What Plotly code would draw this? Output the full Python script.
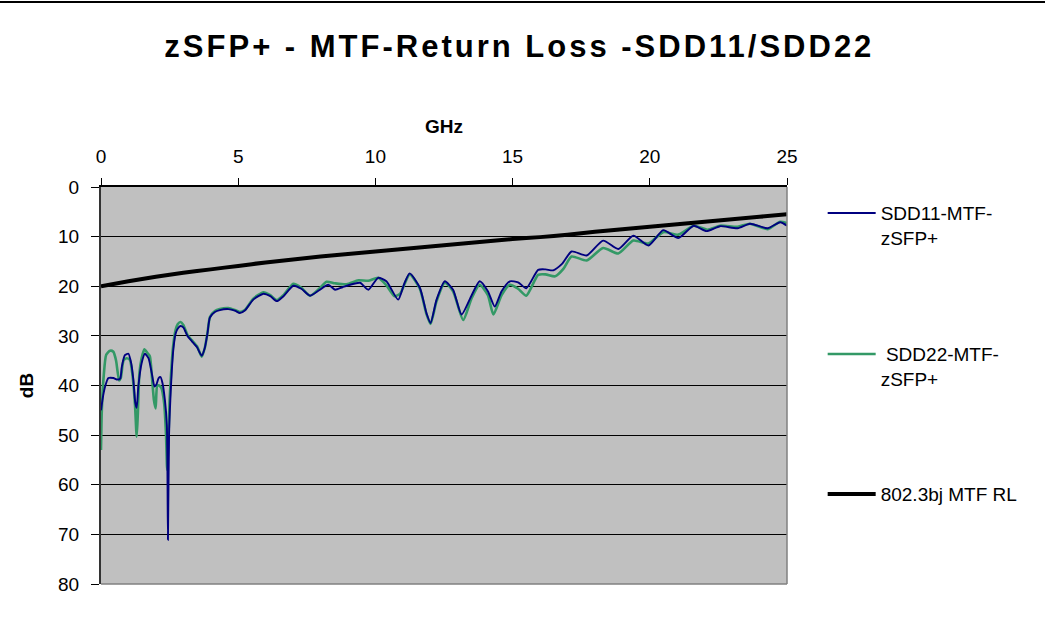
import plotly.graph_objects as go

# ---------------- data ----------------
freq_sdd11 = [0.00, 0.08, 0.15, 0.27, 0.45, 0.60, 0.70, 0.76, 0.87, 1.00, 1.10, 1.18, 1.25, 1.30,
              1.36, 1.48, 1.60, 1.73, 1.85, 1.95, 2.02, 2.10, 2.17, 2.24, 2.33, 2.40, 2.44, 2.48,
              2.53, 2.58, 2.64, 2.72, 2.80, 2.90, 3.00, 3.15, 3.30, 3.50, 3.67, 3.78, 3.88, 3.97,
              4.15, 4.33, 4.64, 4.88, 5.06, 5.24, 5.55, 5.92, 6.17, 6.41, 6.65, 7.01, 7.30, 7.62,
              7.95, 8.28, 8.53, 8.80, 9.07, 9.44, 9.74, 10.10, 10.40, 10.83, 11.05, 11.25, 11.62,
              11.86, 12.01, 12.23, 12.53, 12.83, 13.14, 13.50, 13.80, 14.10, 14.35, 14.60, 14.90,
              15.20, 15.50, 15.93, 16.20, 16.48, 16.80, 17.15, 17.70, 18.30, 18.85, 19.40, 19.95,
              20.49, 21.04, 21.60, 22.07, 22.56, 23.20, 23.65, 24.30, 24.75, 25.00]
db_sdd11 = [45.0, 42.0, 40.2, 38.5, 38.5, 38.8, 38.6, 36.2, 33.9, 33.6, 35.5, 38.9, 43.5, 44.5,
            40.2, 35.5, 33.6, 34.5, 37.5, 40.2, 39.8, 38.5, 38.3, 39.5, 43.0, 48.0, 71.1, 50.0,
            42.5, 37.0, 32.5, 29.5, 28.5, 28.0, 28.3, 30.0, 31.0, 32.3, 34.0, 32.5, 29.5, 26.3,
            25.2, 24.8, 24.6, 24.9, 25.4, 24.9, 22.7, 21.5, 22.0, 23.0, 22.0, 19.9, 20.5, 21.9,
            20.8, 19.7, 20.7, 20.2, 19.7, 19.3, 20.7, 18.3, 19.0, 22.7, 19.5, 17.4, 20.3,
            25.4, 27.4, 22.7, 19.0, 20.7, 25.7, 21.9, 19.0, 21.0, 24.1, 21.0, 19.0,
            19.2, 20.4, 16.7, 16.6, 16.8, 15.5, 13.0, 13.8, 10.8, 12.5, 9.8, 11.8,
            8.7, 10.3, 7.8, 8.9, 7.9, 8.3, 7.4, 8.3, 7.1, 7.8]

freq_sdd22 = [0.00, 0.03, 0.10, 0.19, 0.33, 0.45, 0.55, 0.66, 0.72, 0.82, 0.93, 1.05, 1.15, 1.24,
              1.30, 1.34, 1.40, 1.48, 1.58, 1.70, 1.78, 1.86, 1.93, 1.99, 2.05, 2.12, 2.20, 2.30,
              2.37, 2.41, 2.45, 2.50, 2.55, 2.62, 2.72, 2.80, 2.90, 3.00, 3.15, 3.30, 3.50, 3.67,
              3.78, 3.88, 3.97, 4.15, 4.33, 4.64, 4.88, 5.06, 5.24, 5.55, 5.92, 6.17, 6.41, 6.65,
              7.01, 7.30, 7.62, 7.95, 8.22, 8.53, 8.95, 9.38, 9.74, 10.10, 10.40, 10.70, 10.90,
              11.25, 11.62, 11.86, 12.01, 12.23, 12.53, 12.83, 13.20, 13.50, 13.80, 14.10, 14.30,
              14.60, 14.90, 15.20, 15.50, 15.93, 16.20, 16.55, 16.85, 17.15, 17.70, 18.30, 18.85,
              19.40, 19.95, 20.49, 21.04, 21.60, 22.10, 22.56, 23.20, 23.65, 24.30, 24.75, 25.00]
db_sdd22 = [53.0, 45.0, 38.0, 33.8, 33.0, 33.2, 35.0, 39.0, 38.5, 35.0, 34.5, 34.8, 38.0, 44.0,
            50.3, 46.0, 37.5, 34.5, 32.7, 33.5, 34.1, 38.5, 43.0, 44.6, 40.0, 40.0, 40.5, 43.5,
            50.0, 57.0, 52.0, 43.0, 38.0, 32.5, 28.8, 27.6, 27.2, 27.8, 29.8, 30.8, 32.1, 34.2,
            32.5, 29.4, 26.2, 25.0, 24.6, 24.4, 24.8, 25.2, 24.8, 22.5, 21.2, 21.8, 22.8, 21.8,
            19.5, 20.3, 21.9, 20.5, 19.1, 19.4, 19.6, 18.8, 18.9, 18.3, 19.8, 22.0, 21.5,
            17.6, 20.5, 25.6, 27.6, 23.0, 19.3, 21.0, 26.8, 22.5, 19.7, 21.8, 25.7,
            21.8, 19.7, 20.5, 21.9, 17.7, 17.6, 18.0, 16.5, 14.0, 14.8, 12.3, 13.4,
            10.8, 11.4, 9.1, 9.6, 7.8, 8.6, 7.8, 8.0, 7.4, 8.5, 7.0, 7.3]

freq_mask = [0, 1, 2, 3, 4, 5, 6, 7, 8, 9, 10, 11, 12, 13, 14, 15, 16, 17, 18, 19, 20,
             21, 22, 23, 24, 25]
db_mask = [20.0, 19.0, 18.1, 17.3, 16.6, 15.9, 15.2, 14.6, 14.0, 13.5, 13.0, 12.5, 12.0,
           11.5, 11.0, 10.5, 10.1, 9.6, 9.0, 8.5, 8.0, 7.5, 7.0, 6.5, 6.0, 5.5]

x_ticks = [0, 5, 10, 15, 20, 25]
y_ticks = [0, 10, 20, 30, 40, 50, 60, 70, 80]

name_sdd11 = "SDD11-MTF-<br>zSFP+"
name_sdd22 = " SDD22-MTF-<br>zSFP+"
name_mask = "802.3bj MTF RL"
title_text = "zSFP+ - MTF-Return Loss -SDD11/SDD22"

FONT = "Liberation Sans, Arial, sans-serif"

# ---------------- figure ----------------
fig = go.Figure()
fig.add_trace(go.Scatter(x=freq_sdd22, y=db_sdd22, mode="lines", name=name_sdd22,
                         line=dict(color="#339966", width=2.6, shape="spline", smoothing=0.6),
                         legend="legend2"))
fig.add_trace(go.Scatter(x=freq_sdd11, y=db_sdd11, mode="lines", name=name_sdd11,
                         line=dict(color="#000080", width=1.9, shape="spline", smoothing=0.6),
                         legend="legend"))
fig.add_trace(go.Scatter(x=freq_mask, y=db_mask, mode="lines", name=name_mask,
                         line=dict(color="#000000", width=4, shape="spline", smoothing=0.5),
                         legend="legend3"))

leg_common = dict(font=dict(family=FONT, size=19, color="#000000"), bgcolor="rgba(0,0,0,0)",
                  xanchor="left", yanchor="top", valign="top", itemwidth=48, x=1.052)

fig.update_layout(
    width=1045, height=621, autosize=False,
    margin=dict(l=101, r=258, t=187, b=37, autoexpand=False),
    paper_bgcolor="#FFFFFF", plot_bgcolor="#C0C0C0",
    title=dict(text='<span style="letter-spacing:3px">' + title_text + '</span>',
               font=dict(family=FONT, size=31, color="#000000", weight="bold"),
               x=0.497, xanchor="center", y=1 - 46 / 621, yanchor="middle"),
    showlegend=True,
    legend=dict(y=0.982, **leg_common),
    legend2=dict(y=0.627, **leg_common),
    legend3=dict(y=0.274, **leg_common),
    xaxis=dict(range=[0, 25], side="top", tickvals=x_ticks, ticks="outside", ticklen=7,
               tickcolor="#000000", showline=True, linecolor="#000000", linewidth=1.5,
               showgrid=False, zeroline=False, automargin=False,
               tickfont=dict(family=FONT, size=19, color="#000000"),
               ticklabelstandoff=8,
               title=dict(text="GHz", font=dict(family=FONT, size=19, color="#000000", weight="bold"),
                          standoff=7)),
    yaxis=dict(range=[80, 0], tickvals=y_ticks, ticks="outside", ticklen=8,
               tickcolor="#000000", showline=True, linecolor="#333333", linewidth=2,
               showgrid=True, gridcolor="#000000", gridwidth=1, zeroline=False, automargin=False,
               tickfont=dict(family=FONT, size=19, color="#000000"),
               ticklabelstandoff=8,
               title=dict(text="dB", font=dict(family=FONT, size=19, color="#000000", weight="bold"),
                          standoff=19)),
    shapes=[
        dict(type="line", xref="paper", yref="paper", x0=1, x1=1, y0=0, y1=1,
             line=dict(color="#808080", width=1.5)),
        dict(type="line", xref="paper", yref="paper", x0=0, x1=1, y0=0, y1=0,
             line=dict(color="#808080", width=1.5)),
        dict(type="line", xref="paper", yref="paper", x0=-101 / 686, x1=1045 / 686,
             y0=(584 - 2) / 397, y1=(584 - 2) / 397, line=dict(color="#000000", width=2)),
    ],
)

fig.write_html("out.html", config={"displayModeBar": False},
               post_script="document.body.style.margin='0';document.body.style.overflow='hidden';")
